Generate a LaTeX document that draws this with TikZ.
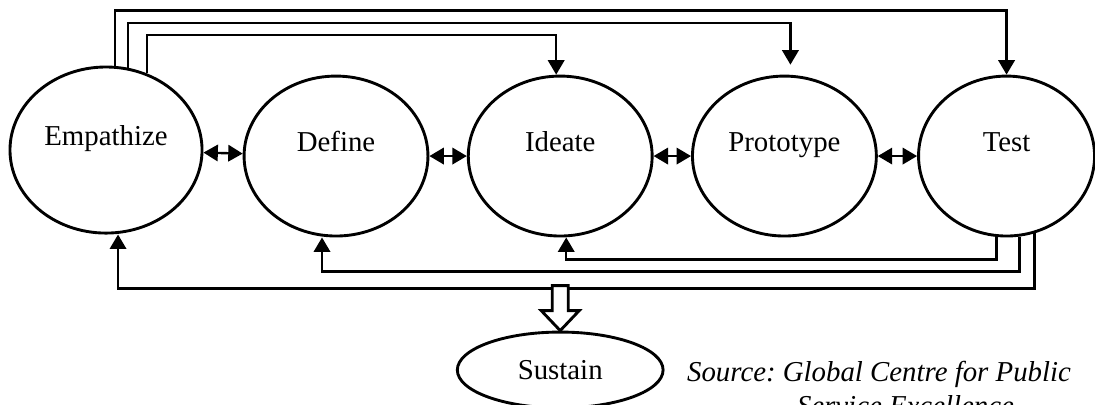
\documentclass[tikz,border=0pt]{standalone}
\usepackage{fontspec}
\setmainfont{Liberation Serif}
\usepackage{tikz}
\usetikzlibrary{shapes}
\usetikzlibrary{positioning}
\usetikzlibrary{arrows.meta}

\begin{document}
\begin{tikzpicture}[node distance=3.28cm, auto,
        phase/.style={ellipse, draw, line width=1.2pt, inner sep=0pt, minimum width=2.69cm, minimum height=2.34cm, text height=8pt, text depth=12pt, font=\fontsize{12}{14}\selectfont},
        outcome/.style={ellipse, draw, line width=1.2pt, minimum width=3.01cm, minimum height=1.11cm, font=\fontsize{12}{14}\selectfont},
        link/.style={line width=1pt, ->},
        >={Triangle[length=6pt,width=6.8pt]}]
            \useasboundingbox (0,0) rectangle (16.02,5.911);
            \node[phase, minimum width=2.81cm, minimum height=2.43cm] (empathize) at (1.551,3.716) {Empathize};
            \node[phase] (define) [right of=empathize, node distance=3.365cm, yshift=-0.088cm] {Define};
            \node[phase] (ideate) [right of=define] {Ideate};
            \node[phase] (prototype) [right of=ideate] {Prototype};
            \node[phase, minimum width=2.575cm] (test) [right of=prototype, node distance=3.25cm] {Test};
            \node[outcome] (sustain) [below of=ideate, node distance=3.13cm] {Sustain};
            \node[anchor=north, align=center, font=\itshape\fontsize{12}{14}\selectfont\frenchspacing] (source) at (12.86,0.746) {Source: Global Centre for Public\\\hspace*{22pt}Service Excellence};
            % neighbouring stages
            \draw[line width=1pt, <->] (empathize) -- (define);
            \draw[line width=1pt, <->] (define) -- (ideate);
            \draw[line width=1pt, <->] (ideate) -- (prototype);
            \draw[line width=1pt, <->] (prototype) -- (test);
            % from Empathize over the top
            \draw[link] (empathize.62) -- ++(0,0.563) -| ([xshift=-0.059cm]ideate.north);
            \draw[link, shorten >=0.146cm] (empathize.75) -- ++(0,0.658) -| ([xshift=0.088cm]prototype.north);
            \draw[link] (empathize.84) -- ++(0,0.809) -| (test.north);
            % back from Test along the bottom
            \draw[link] (test.263) -- ++(0,-0.329) -| ([xshift=0.088cm]ideate.south);
            \draw[link] (test.279) -- ++(0,-0.509) -| ([xshift=-0.205cm]define.south);
            \draw[link] (test.290) -- ++(0,-0.805) -| ([xshift=0.176cm]empathize.south);
            \draw[line width=1.2pt, fill=white] (sustain.north) -- ++(-0.278,0.293) -- ++(0.161,0) -- ++(0,0.366) -- ++(0.234,0) -- ++(0,-0.366) -- ++(0.161,0) -- cycle;
        \end{tikzpicture}
\end{document}
